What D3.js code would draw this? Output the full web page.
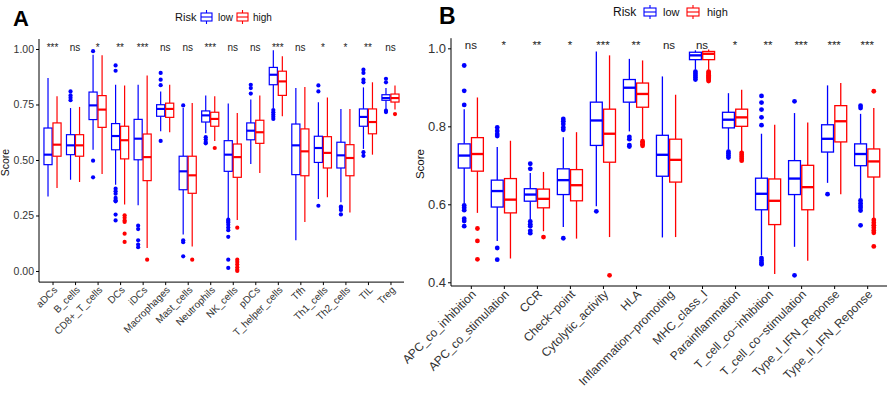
<!DOCTYPE html>
<html><head><meta charset="utf-8">
<script src="https://cdn.jsdelivr.net/npm/d3@7"></script>
<style>
body{margin:0;background:#fff;}
svg{display:block;font-family:"Liberation Sans",Arial,Helvetica,sans-serif;}
</style></head>
<body><svg id="c" width="892" height="398"></svg>
<script>
// ---------- Panel A data ----------
const catsA = ["aDCs","B_cells","CD8+_T_cells","DCs","iDCs","Macrophages","Mast_cells","Neutrophils","NK_cells","pDCs","T_helper_cells","Tfh","Th1_cells","Th2_cells","TIL","Treg"];
const sigA = ["***","ns","*","**","***","ns","ns","***","ns","ns","***","ns","*","*","**","ns"];
// [whiskerLow, q1, median, q3, whiskerHigh]
const lowA = [
 [0.336,0.479,0.524,0.644,0.869],[0.411,0.524,0.566,0.614,0.734],[0.546,0.682,0.746,0.806,0.974],
 [0.389,0.546,0.608,0.664,0.839],[0.296,0.501,0.596,0.683,0.839],[0.629,0.697,0.730,0.749,0.809],
 [0.164,0.366,0.449,0.517,0.734],[0.620,0.671,0.701,0.721,0.791],[0.239,0.449,0.524,0.587,0.754],
 [0.482,0.591,0.632,0.667,0.772],[0.734,0.839,0.884,0.917,0.994],[0.138,0.434,0.566,0.662,0.824],
 [0.324,0.489,0.554,0.607,0.760],[0.310,0.464,0.521,0.580,0.730],[0.550,0.652,0.694,0.730,0.827],
 [0.730,0.769,0.779,0.794,0.824]];
const lowOutA = [
 [],[0.769,0.780,0.791,0.809],[0.990,0.497,0.422],
 [0.926,0.902,0.371,0.359,0.348,0.329,0.319,0.314,0.254,0.228],[0.204,0.189,0.138,0.119,0.107],[0.892,0.862,0.837,0.586],
 [0.746,0.138,0.130,0.066],[0.603,0.592,0.581,0.575],[0.231,0.225,0.218,0.208,0.196,0.184,0.154,0.051,0.014],
 [0.839,0.824,0.799],[0.725,0.715,0.705,0.695,0.685],[],
 [0.836,0.809,0.294],[0.290,0.285,0.275,0.255],[0.907,0.892,0.862,0.850,0.535,0.519],
 [0.866,0.850,0.722,0.716]];
const highA = [
 [0.374,0.517,0.569,0.667,0.787],[0.401,0.517,0.566,0.614,0.739],[0.437,0.647,0.727,0.790,0.972],
 [0.299,0.505,0.589,0.652,0.836],[0.104,0.407,0.513,0.617,0.881],[0.625,0.692,0.730,0.756,0.839],
 [0.110,0.350,0.431,0.517,0.757],[0.586,0.652,0.685,0.715,0.787],[0.230,0.422,0.513,0.572,0.712],
 [0.441,0.575,0.625,0.679,0.791],[0.697,0.791,0.854,0.900,0.967],[0.221,0.429,0.539,0.640,0.829],
 [0.332,0.464,0.532,0.605,0.782],[0.264,0.429,0.509,0.569,0.730],[0.524,0.618,0.671,0.730,0.850],
 [0.727,0.761,0.779,0.797,0.836]];
const highOutA = [
 [],[],[],
 [0.251,0.240,0.228,0.221,0.168,0.131],[0.051],[],
 [0.051],[0.554],[0.195,0.051,0.041,0.029,0.017,0.006,0.000],
 [],[],[],
 [],[],[],
 [0.707]];
const ticksA = [0,0.25,0.5,0.75,1];
const tickLabelsA = ["0.00","0.25","0.50","0.75","1.00"];

// ---------- Panel B data ----------
const catsB = ["APC_co_inhibition","APC_co_stimulation","CCR","Check\u2212point","Cytolytic_activity","HLA","Inflammation\u2212promoting","MHC_class_I","Parainflammation","T_cell_co\u2212inhibition","T_cell_co\u2212stimulation","Type_I_IFN_Reponse","Type_II_IFN_Reponse"];
const sigB = ["ns","*","**","*","***","**","ns","ns","*","**","***","***","***"];
const lowB = [
 [0.602,0.693,0.725,0.755,0.844],[0.506,0.593,0.634,0.662,0.747],[0.561,0.608,0.625,0.640,0.680],
 [0.542,0.625,0.662,0.691,0.772],[0.595,0.751,0.815,0.862,0.992],[0.787,0.862,0.899,0.920,0.973],
 [0.515,0.672,0.727,0.777,0.928],[0.945,0.971,0.982,0.990,0.995],[0.740,0.796,0.817,0.836,0.885],
 [0.469,0.586,0.627,0.667,0.781],[0.491,0.625,0.666,0.712,0.834],[0.655,0.734,0.768,0.804,0.905],
 [0.616,0.699,0.729,0.755,0.832]];
const lowOutB = [
 [0.956,0.891,0.855,0.597,0.591,0.585,0.563,0.557,0.544],[0.797,0.788,0.780,0.775,0.488,0.458],[0.704,0.691,0.556,0.549,0.544,0.532,0.526],
 [0.819,0.813,0.806,0.797,0.791,0.513],[0.582],[0.773,0.767,0.752,0.748],
 [],[0.940,0.935,0.930,0.925,0.920],[0.735,0.730,0.725,0.720],
 [0.878,0.861,0.843,0.823,0.803,0.462,0.456,0.450,0.446],[0.864,0.418],[0.626],
 [0.853,0.847,0.610,0.603,0.596,0.591,0.584,0.546]];
const highB = [
 [0.578,0.685,0.729,0.771,0.874],[0.461,0.578,0.612,0.666,0.763],[0.531,0.591,0.614,0.639,0.683],
 [0.512,0.609,0.649,0.689,0.785],[0.516,0.708,0.781,0.844,0.982],[0.766,0.849,0.883,0.911,0.969],
 [0.516,0.657,0.714,0.767,0.881],[0.945,0.971,0.986,0.992,0.997],[0.736,0.800,0.823,0.844,0.894],
 [0.421,0.548,0.609,0.665,0.804],[0.455,0.586,0.644,0.700,0.810],[0.626,0.760,0.813,0.853,0.911],
 [0.565,0.670,0.710,0.742,0.847]];
const highOutB = [
 [0.538,0.506,0.459],[],[0.516],
 [],[0.418],[0.762,0.758,0.754,0.750],
 [],[0.940,0.937,0.934,0.931,0.928,0.925,0.922,0.919,0.916],[0.732,0.727,0.722,0.717,0.712],
 [],[],[],
 [0.890,0.560,0.553,0.546,0.540,0.533,0.527,0.492]];
const ticksB = [0.4,0.6,0.8,1.0];
const tickLabelsB = ["0.4","0.6","0.8","1.0"];

const groups = ["low","high"];
const colors = {low:"#0000FF", high:"#FF0000"};

const svg = d3.select("#c");

function drawPanel(o){
  const g = svg.append("g");
  const x = d3.scalePoint().domain(o.cats).range([o.left,o.right]).padding(0.6);
  const y = d3.scaleLinear().domain(o.ydom).range([o.bottom,o.top]);
  const step = x.step();
  const bw = step*0.36, off = step*0.2;
  const sets = [{k:"low",st:o.low,out:o.lowOut,dx:-off},{k:"high",st:o.high,out:o.highOut,dx:off}];
  sets.forEach(s=>{
    o.cats.forEach((c,i)=>{
      const cx = x(c)+s.dx, st = s.st[i], col = colors[s.k];
      const bg = g.append("g");
      bg.append("line").attr("x1",cx).attr("x2",cx).attr("y1",y(st[3])).attr("y2",y(st[4])).attr("stroke",col).attr("stroke-width",o.lw);
      bg.append("line").attr("x1",cx).attr("x2",cx).attr("y1",y(st[0])).attr("y2",y(st[1])).attr("stroke",col).attr("stroke-width",o.lw);
      bg.append("rect").attr("x",cx-bw/2).attr("y",y(st[3])).attr("width",bw).attr("height",y(st[1])-y(st[3]))
        .attr("fill","#fff").attr("stroke",col).attr("stroke-width",o.lw);
      bg.append("line").attr("x1",cx-bw/2).attr("x2",cx+bw/2).attr("y1",y(st[2])).attr("y2",y(st[2])).attr("stroke",col).attr("stroke-width",o.lw*1.8);
      bg.selectAll("circle").data(s.out[i]).join("circle").attr("cx",cx).attr("cy",d=>y(d)).attr("r",o.pr).attr("fill",col);
    });
  });
  // significance labels
  g.selectAll("text.sig").data(o.cats).join("text").attr("class","sig")
    .attr("x",d=>x(d)).attr("y",o.sigY).attr("text-anchor","middle")
    .attr("font-size",o.sigFs).attr("fill","#222").text((d,i)=>o.sig[i]);
  // y axis
  const ya = d3.axisLeft(y).tickValues(o.ticks).tickFormat((d,i)=>o.tickLabels[i]).tickSize(3).tickPadding(2);
  const yg = g.append("g").attr("transform",`translate(${o.left},0)`).call(ya);
  yg.select(".domain").attr("d",`M0,${o.bottom}V${o.top}`);
  yg.selectAll("text").attr("font-size",o.yFs).attr("fill","#333").attr("font-family","Liberation Sans, Arial, sans-serif");
  // x axis
  const xa = d3.axisBottom(x).tickSize(3).tickFormat("");
  const xg = g.append("g").attr("transform",`translate(0,${o.bottom})`).call(xa);
  xg.select(".domain").attr("d",`M${o.left},0H${o.right}`);
  g.selectAll("text.xl").data(o.cats).join("text").attr("class","xl")
    .attr("transform",d=>`translate(${x(d)+o.xlDx},${o.bottom+o.xlDy}) rotate(-45)`)
    .attr("text-anchor","end").attr("dy","0.35em").attr("font-size",o.xFs).attr("fill","#333").text(d=>d);
  // y title
  g.append("text").attr("transform",`translate(${o.scoreX},${(o.top+o.bottom)/2+2}) rotate(-90)`)
    .attr("text-anchor","middle").attr("font-size",o.scoreFs).attr("fill","#111").text("Score");
  // panel letter
  g.append("text").attr("x",o.letterX).attr("y",o.letterY).attr("font-size",o.letterFs).attr("font-weight","bold").text(o.letter);
  // legend
  const lg = g.append("g").attr("transform",`translate(${o.legX},${o.legY})`);
  lg.append("text").attr("x",0).attr("y",4).attr("font-size",o.legFs).attr("fill","#111").text("Risk");
  groups.forEach((k,j)=>{
    const col = colors[k], iw = o.iconW, ix = o.iconX[j];
    const ig = lg.append("g").attr("transform",`translate(${ix},0)`);
    ig.append("line").attr("x1",iw/2).attr("x2",iw/2).attr("y1",-7).attr("y2",7).attr("stroke",col).attr("stroke-width",1.1);
    ig.append("rect").attr("x",0).attr("y",-4).attr("width",iw).attr("height",8).attr("fill","#fff").attr("stroke",col).attr("stroke-width",1.1);
    ig.append("line").attr("x1",0).attr("x2",iw).attr("y1",0).attr("y2",0).attr("stroke",col).attr("stroke-width",1.1);
    lg.append("text").attr("x",o.textX[j]).attr("y",4).attr("font-size",o.legFs-1).attr("fill","#111").text(k);
  });
}

drawPanel({cats:catsA, sig:sigA, low:lowA, lowOut:lowOutA, high:highA, highOut:highOutA,
  ticks:ticksA, tickLabels:tickLabelsA, left:39, right:404, top:39, bottom:282.1, ydom:[-0.05,1.045],
  lw:1.2, pr:2.1, sigY:51, sigFs:10, yFs:10.5, xFs:10, xlDx:3, xlDy:6, scoreX:9, scoreFs:10.5,
  letter:"A", letterX:13, letterY:26, letterFs:22, legX:175, legY:17, legFs:11,
  iconW:11, iconX:[26,62], textX:[43,78]});

drawPanel({cats:catsB, sig:sigB, low:lowB, lowOut:lowOutB, high:highB, highOut:highOutB,
  ticks:ticksB, tickLabels:tickLabelsB, left:451, right:887, top:38.2, bottom:286, ydom:[0.3905,1.026],
  lw:1.3, pr:2.4, sigY:49, sigFs:11.5, yFs:13, xFs:12, xlDx:3, xlDy:6, scoreX:424, scoreFs:11.5,
  letter:"B", letterX:439, letterY:24, letterFs:23, legX:613, legY:12, legFs:12,
  iconW:12, iconX:[31,74], textX:[50,94]});
</script></body></html>
